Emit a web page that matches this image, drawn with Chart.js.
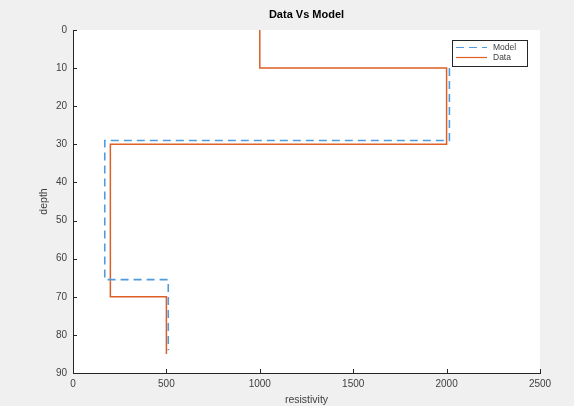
<!DOCTYPE html>
<html>
<head>
<meta charset="utf-8">
<script src="https://cdn.jsdelivr.net/npm/chart.js@4/dist/chart.umd.min.js"></script>
<style>
html,body{margin:0;padding:0;background:#f0f0f0;}
#wrap{width:574px;height:406px;position:relative;}
</style>
</head>
<body>
<div id="wrap"><canvas id="c" width="574" height="406"></canvas></div>
<script>
const titleText = "Data Vs Model";
const xLabel = "resistivity";
const yLabel = "depth";
const xTicks = [0, 500, 1000, 1500, 2000, 2500];
const yTicks = [0, 10, 20, 30, 40, 50, 60, 70, 80, 90];

const modelX = [2015, 2015, 170, 170, 510, 510];
const modelY = [10, 29, 29, 65.5, 65.5, 84];
const dataX = [1000, 1000, 2000, 2000, 200, 200, 500, 500];
const dataY = [0, 10, 10, 30, 30, 70, 70, 85];

const seriesLabels = ["Model", "Data"];
const blue = "#4f9be0";
const orange = "#dd5f24";
const axisColor = "#262626";
const textColor = "#404040";
const font = "'Liberation Sans', Arial, Helvetica, sans-serif";

function pts(xs, ys){ return xs.map((x,i)=>({x:x, y:ys[i]})); }

const decor = {
  id: 'decor',
  beforeDraw(chart){
    const {ctx, chartArea:a} = chart;
    ctx.save();
    ctx.fillStyle = '#f0f0f0';
    ctx.fillRect(0,0,chart.width,chart.height);
    ctx.fillStyle = '#ffffff';
    ctx.fillRect(a.left, a.top, a.right-a.left, a.bottom-a.top);
    ctx.restore();
  },
  afterDraw(chart){
    const {ctx, chartArea:a, scales} = chart;
    ctx.save();
    // inward ticks
    ctx.strokeStyle = axisColor;
    ctx.lineWidth = 1;
    ctx.beginPath();
    xTicks.forEach(v=>{
      const px = Math.round(scales.x.getPixelForValue(v))+0.5;
      ctx.moveTo(px, a.bottom); ctx.lineTo(px, a.bottom-4);
    });
    yTicks.forEach(v=>{
      const py = Math.round(scales.y.getPixelForValue(v))+0.5;
      ctx.moveTo(a.left, py); ctx.lineTo(a.left+4, py);
    });
    ctx.stroke();
    // title
    ctx.fillStyle = '#000';
    ctx.font = "bold 11px " + font;
    ctx.textAlign = 'center';
    ctx.textBaseline = 'middle';
    ctx.fillText(titleText, (a.left+a.right)/2, 15);
    // y axis label
    ctx.save();
    ctx.translate(44, (a.top+a.bottom)/2);
    ctx.rotate(-Math.PI/2);
    ctx.fillStyle = textColor;
    ctx.font = "10.5px " + font;
    ctx.textAlign = 'center';
    ctx.textBaseline = 'middle';
    ctx.fillText(yLabel, 0, 0);
    ctx.restore();
    // legend
    const lx = 452, ly = 40, lw = 75, lh = 26;
    ctx.fillStyle = '#fff';
    ctx.fillRect(lx, ly, lw, lh);
    ctx.strokeStyle = axisColor;
    ctx.lineWidth = 1;
    ctx.strokeRect(lx+0.5, ly+0.5, lw, lh);
    const ds = chart.data.datasets;
    ds.forEach((d,i)=>{
      const yy = ly + 7.5 + i*10;
      ctx.strokeStyle = d.borderColor;
      ctx.lineWidth = 1.2;
      ctx.setLineDash(d.borderDash || []);
      ctx.beginPath();
      ctx.moveTo(lx+4, yy); ctx.lineTo(lx+35, yy);
      ctx.stroke();
      ctx.setLineDash([]);
      ctx.fillStyle = textColor;
      ctx.font = "8.5px " + font;
      ctx.textAlign = 'left';
      ctx.textBaseline = 'middle';
      ctx.fillText(d.label, lx+41, yy);
    });
    ctx.restore();
  }
};

new Chart(document.getElementById('c'), {
  type: 'scatter',
  data: {
    datasets: [
      {label: seriesLabels[0], data: pts(modelX, modelY), showLine: true, borderColor: blue,
       borderWidth: 1.6, borderDash: [8,5], pointRadius: 0, fill: false, tension: 0},
      {label: seriesLabels[1], data: pts(dataX, dataY), showLine: true, borderColor: orange,
       borderWidth: 1.5, pointRadius: 0, fill: false, tension: 0}
    ]
  },
  options: {
    responsive: false,
    animation: false,
    layout: {padding: {left: 0, right: 34, top: 30, bottom: 0}},
    plugins: {legend: {display: false}, title: {display: false}, tooltip: {enabled: false}},
    scales: {
      x: {
        type: 'linear', min: 0, max: 2500,
        afterBuildTicks(s){ s.ticks = xTicks.map(v=>({value:v})); },
        afterFit(s){ s.height = 33; },
        grid: {display: false, drawTicks: false},
        border: {display: true, color: axisColor, width: 1},
        ticks: {color: textColor, font: {family: font, size: 10}, padding: 5, maxRotation: 0,
                callback: (v)=>String(v)},
        title: {display: true, text: xLabel, color: textColor, font: {family: font, size: 10.5}, padding: {top: 0, bottom: 0}}
      },
      y: {
        type: 'linear', min: 0, max: 90, reverse: true,
        afterBuildTicks(s){ s.ticks = yTicks.map(v=>({value:v})); },
        afterFit(s){ s.width = 73; },
        grid: {display: false, drawTicks: false},
        border: {display: true, color: axisColor, width: 1},
        ticks: {color: textColor, font: {family: font, size: 10}, padding: 6,
                callback: (v)=>String(v)},
        title: {display: false}
      }
    }
  },
  plugins: [decor]
});
</script>
</body>
</html>
